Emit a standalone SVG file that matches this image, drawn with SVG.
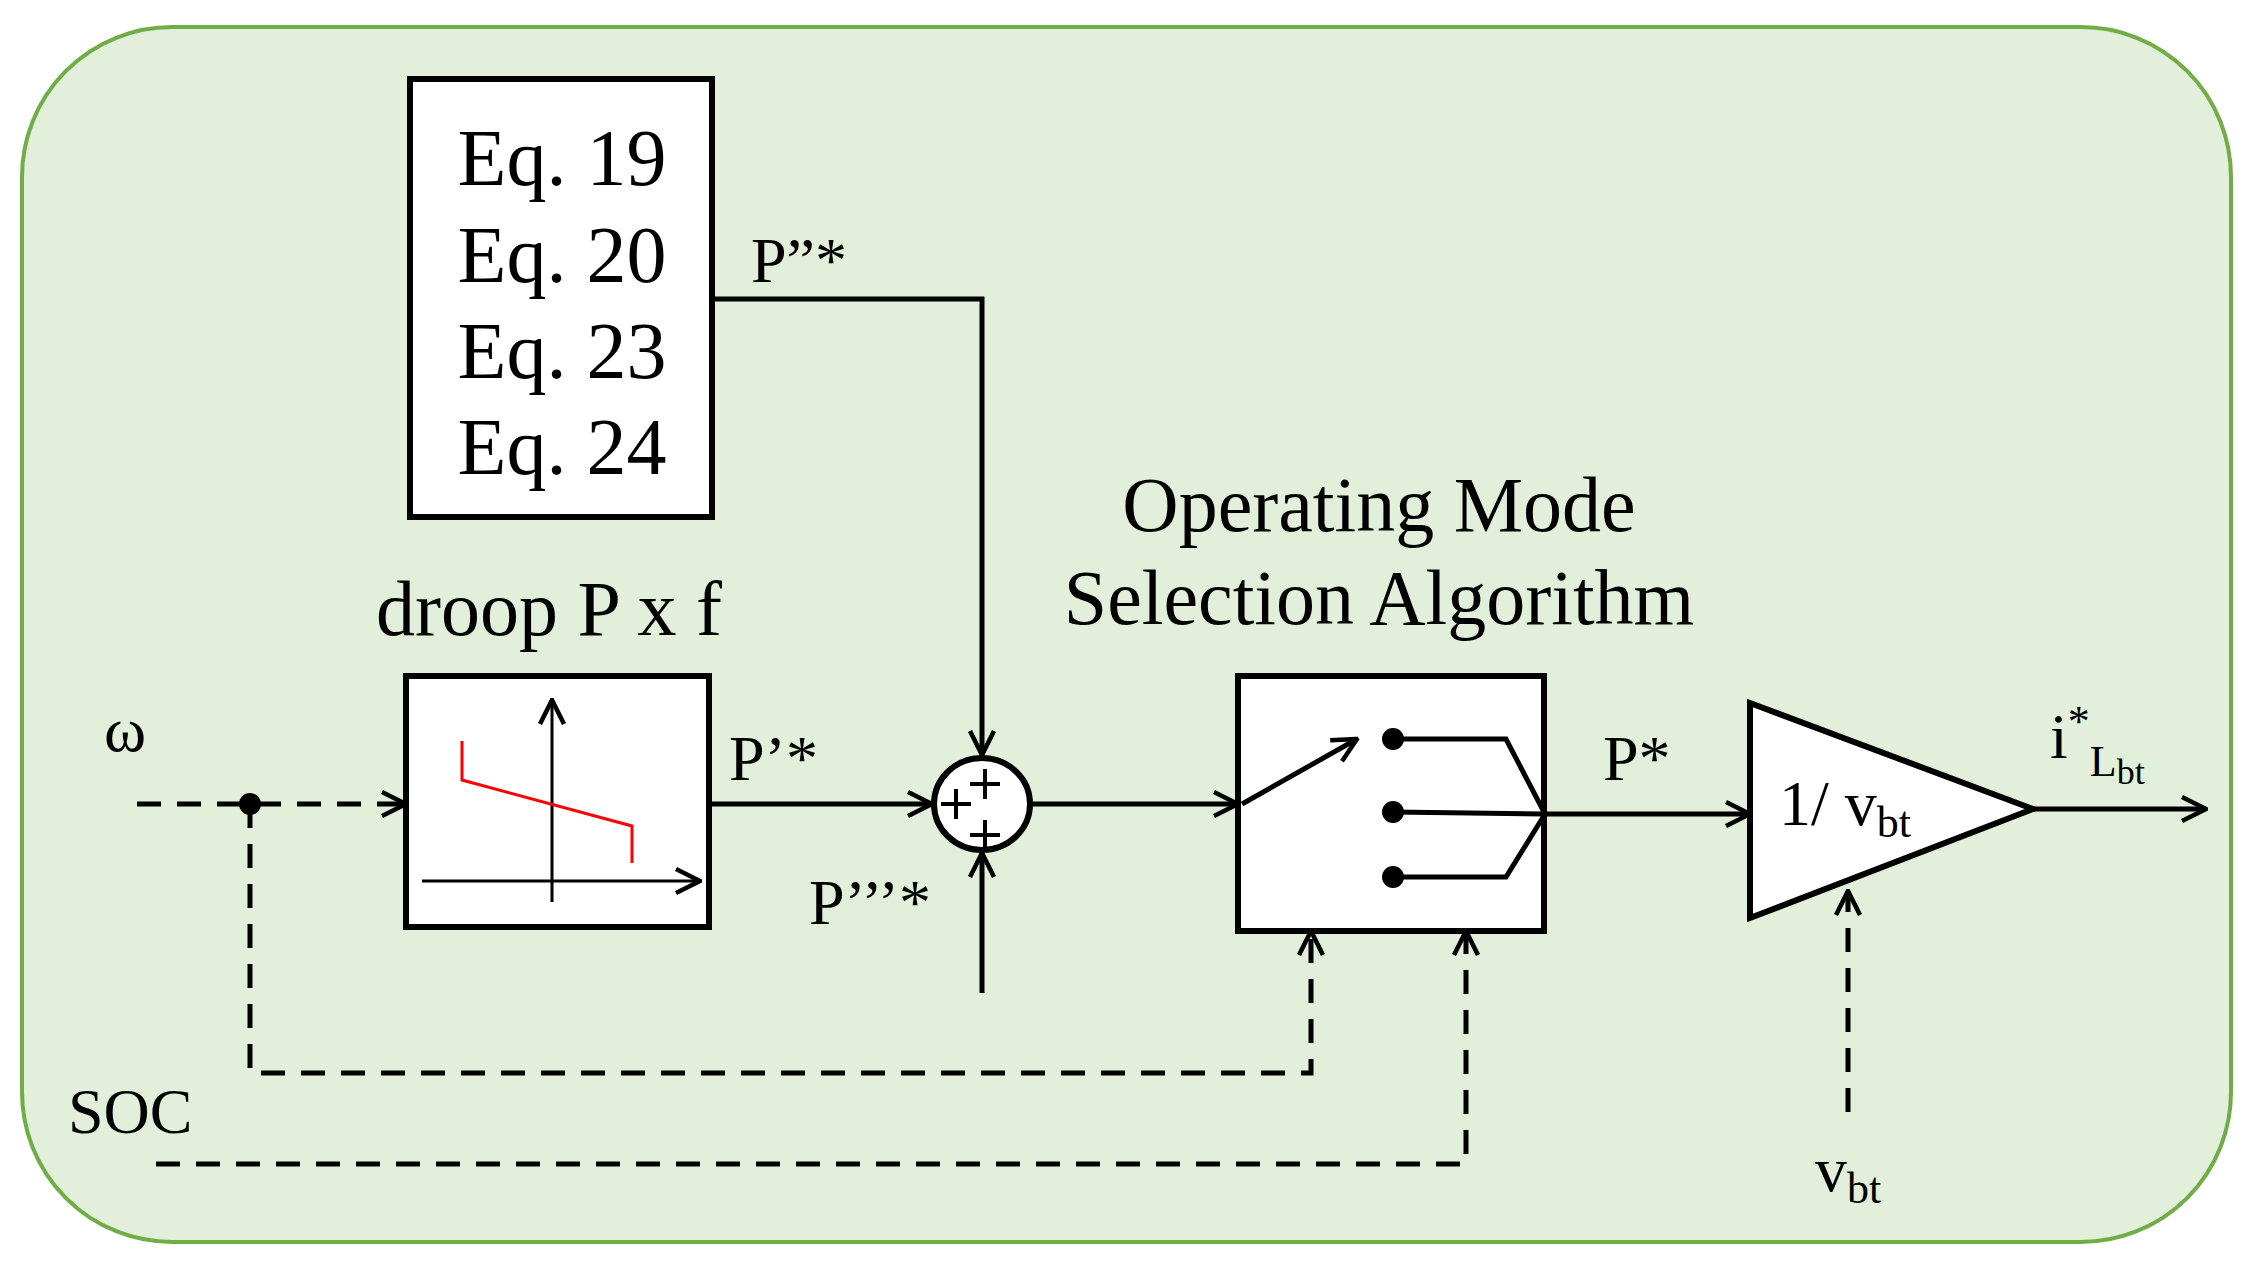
<svg xmlns="http://www.w3.org/2000/svg" width="2253" height="1263" viewBox="0 0 2253 1263">
<defs>
<style>
text{font-family:"Liberation Serif","Times New Roman",serif;fill:#000}
.s{stroke:#000;stroke-width:5;fill:none}
.d{stroke:#000;stroke-width:5;fill:none;stroke-dasharray:24 16}
.b{stroke:#000;stroke-width:6;fill:#fff}
</style>
<marker id="a" viewBox="0 0 30 30" refX="28" refY="15" markerWidth="30" markerHeight="30" markerUnits="userSpaceOnUse" orient="auto">
<path d="M4 3 L28 15 L4 27" fill="none" stroke="#000" stroke-width="4.5"/>
</marker>
</defs>
<rect x="22" y="27" width="2209" height="1215" rx="150" fill="#E2EFDA" stroke="#70AD47" stroke-width="4"/>
<g id="eq">
<rect class="b" x="410" y="79" width="302" height="438"/>
<text x="562" y="185" font-size="80" text-anchor="middle">Eq. 19</text>
<text x="562" y="282" font-size="80" text-anchor="middle">Eq. 20</text>
<text x="562" y="378" font-size="80" text-anchor="middle">Eq. 23</text>
<text x="562" y="474" font-size="80" text-anchor="middle">Eq. 24</text>
</g>
<g id="droop">
<text x="376" y="635" font-size="78">droop P x f</text>
<rect class="b" x="406" y="676" width="303" height="251"/>
<line x1="552" y1="902" x2="552" y2="700" stroke="#000" stroke-width="3" marker-end="url(#a)"/>
<line x1="422" y1="881" x2="700" y2="881" stroke="#000" stroke-width="3" marker-end="url(#a)"/>
<polyline points="462,741 462,780 632,826 632,863" fill="none" stroke="#FF0000" stroke-width="3"/>
</g>
<g id="sum">
<ellipse cx="982" cy="804" rx="48" ry="46" class="b" stroke-width="5"/>
<path d="M970 784h30M985 769v30M941 804h30M956 789v30M970 835h30M985 820v30" stroke="#000" stroke-width="4"/>
</g>
<g id="oms">
<text x="1379" y="531" font-size="78" text-anchor="middle">Operating Mode</text>
<text x="1379" y="624" font-size="78" text-anchor="middle">Selection Algorithm</text>
<rect class="b" x="1238" y="676" width="306" height="255"/>
<line x1="1242" y1="804" x2="1357" y2="739" class="s" marker-end="url(#a)"/>
<circle cx="1393" cy="739" r="11"/><circle cx="1393" cy="812" r="11"/><circle cx="1393" cy="877" r="11"/>
<polyline class="s" points="1393,739 1506,739 1545,814 1506,877 1393,877"/>
<line class="s" x1="1393" y1="812" x2="1545" y2="814"/>
</g>
<g id="gain">
<polygon class="b" points="1750,703 1750,918 2033,809"/>
<text x="1779" y="825" font-size="64">1/ v<tspan font-size="44" dy="12">bt</tspan></text>
</g>
<g id="labels">
<text x="751" y="282" font-size="64">P”*</text>
<text x="729" y="780" font-size="64">P’*</text>
<text x="809" y="924" font-size="64">P’’’*</text>
<text x="104" y="751" font-size="64">ω</text>
<text x="68" y="1133" font-size="64">SOC</text>
<text x="1603" y="780" font-size="64">P*</text>
<text x="2050" y="758" font-size="64">i<tspan font-size="44" dy="-22">*</tspan><tspan font-size="44" dy="40">L</tspan><tspan font-size="36" dy="8">bt</tspan></text>
<text x="1815" y="1191" font-size="64">v<tspan font-size="44" dy="12">bt</tspan></text>
</g>
<g id="connectors">
<polyline class="s" points="712,299 982,299 982,755" marker-end="url(#a)"/>
<line class="s" x1="982" y1="993" x2="982" y2="853" marker-end="url(#a)"/>
<line class="s" x1="709" y1="804" x2="932" y2="804" marker-end="url(#a)"/>
<line class="s" x1="1030" y1="804" x2="1238" y2="804" marker-end="url(#a)"/>
<line class="s" x1="1545" y1="814" x2="1750" y2="814" marker-end="url(#a)"/>
<line class="s" x1="2033" y1="809" x2="2206" y2="809" marker-end="url(#a)"/>
<line class="d" x1="137" y1="804" x2="406" y2="804" marker-end="url(#a)"/>
<circle cx="250" cy="804" r="11"/>
<polyline class="d" points="250,804 250,1073 1311,1073 1311,931" marker-end="url(#a)"/>
<polyline class="d" points="156,1164 1466,1164 1466,931" marker-end="url(#a)"/>
<line class="d" x1="1848" y1="1112" x2="1848" y2="891" marker-end="url(#a)"/>
</g>
</svg>
